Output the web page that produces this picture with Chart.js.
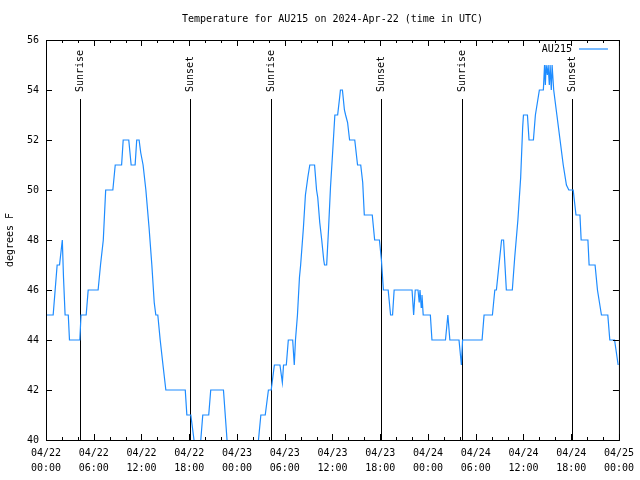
<!DOCTYPE html>
<html>
<head>
<meta charset="utf-8">
<title>Temperature for AU215</title>
<script src="https://cdn.jsdelivr.net/npm/chart.js@4.4.1/dist/chart.umd.min.js"></script>
<style>
  html, body { margin: 0; padding: 0; background: #fff; }
  canvas { display: block; }
</style>
</head>
<body>
<canvas id="chart" width="640" height="480"></canvas>
<script>
// Horas desde 2024-04-22 00:00 UTC y temperatura (°F)
const hours = [
  0, 0.9, 1.15, 1.4, 1.7, 2.05, 2.2, 2.4, 2.8, 2.95, 4.25, 4.4, 5.05, 5.3, 6.55, 6.85, 7.2, 7.35, 7.5,
  8.4, 8.7, 9.5, 9.7, 10.4, 10.7, 11.2, 11.4, 11.7, 11.9, 12.2, 12.55, 12.95, 13.3, 13.6, 13.8, 14.05,
  14.35, 14.7, 15.06, 17.5, 17.7, 18.2, 18.6, 18.85, 19.2, 19.45, 19.7, 20.45, 20.7, 22.3, 22.75, 23.0,
  26.4, 26.7, 27.0, 27.55, 27.95, 28.3, 28.7, 29.4, 29.7, 29.85, 30.2, 30.45, 31.0, 31.2, 31.35, 31.6,
  31.85, 32.0, 32.35, 32.6, 32.9, 33.15, 33.75, 34.0, 34.15, 34.4, 34.65, 34.9, 35.0, 35.27, 35.5, 35.75,
  36.0, 36.3, 36.65, 36.9, 37.0, 37.25, 37.5, 37.65, 37.9, 38.15, 38.8, 39.15, 39.55, 39.8, 40.0, 41.0,
  41.3, 41.9, 42.15, 42.4, 43.0, 43.3, 43.55, 43.75, 46.0, 46.2, 46.4, 46.75, 46.9, 47.0, 47.15, 47.25,
  47.4, 48.3, 48.5, 50.2, 50.5, 50.75, 51.9, 52.2, 52.35, 54.8, 55.05, 56.1, 56.4, 56.6, 57.25, 57.5,
  57.85, 58.6, 58.9, 59.3, 59.65, 59.9, 60.0, 60.5, 60.7, 61.25, 61.5, 62.0, 62.5, 62.65, 62.75, 62.85,
  63.0, 63.1, 63.25, 63.35, 63.5, 63.6, 63.8, 64.2, 64.6, 65.0, 65.4, 65.7, 66.25, 66.6, 67.1, 67.25,
  68.1, 68.25, 69.0, 69.3, 69.8, 70.6, 70.85, 71.45, 71.9
];
const tempsF = [
  45, 45, 46, 47, 47, 48, 46.5, 45, 45, 44, 44, 45, 45, 46, 46, 47, 48, 49, 50,
  50, 51, 51, 52, 52, 51, 51, 52, 52, 51.5, 51, 50, 48.5, 47, 45.5, 45, 45,
  44, 43, 42, 42, 41, 41, 40, 39, 39, 40, 41, 41, 42, 42, 40, 39,
  39, 40, 41, 41, 42, 42, 43, 43, 42.3, 43, 43, 44, 44, 43, 44, 45,
  46.5, 47, 48.5, 49.8, 50.5, 51, 51, 50, 49.7, 48.7, 48, 47.2, 47, 47, 48.4, 50.1,
  51.4, 53, 53, 53.7, 54, 54, 53.2, 53, 52.7, 52, 52, 51, 51, 50.3, 49, 49,
  48, 48, 47.2, 46, 46, 45, 45, 46, 46, 45, 46, 46, 45.5, 46, 45.3, 45.8,
  45, 45, 44, 44, 45, 44, 44, 43, 44, 44, 45, 45, 46, 46, 48, 48,
  46, 46, 47.3, 48.8, 50.5, 52.5, 53, 53, 52, 52, 53, 54, 54, 55, 54.2, 55,
  54.6, 55, 54.2, 55, 54, 55, 54, 53, 52, 51, 50.2, 50, 50, 49, 49, 48,
  48, 47, 47, 46, 45, 45, 44, 44, 43
];

// Salida y puesta del sol
const eventNames = ['Sunrise', 'Sunset', 'Sunrise', 'Sunset', 'Sunrise', 'Sunset'];
const eventHours = [4.3, 18.07, 28.33, 42.1, 52.26, 66.15];

// Ejes
const X_MIN = 0, X_MAX = 72, X_STEP = 6, X_MINOR = 2;
const Y_MIN = 40, Y_MAX = 56, Y_STEP = 2;

const TITLE = 'Temperature for AU215 on 2024-Apr-22 (time in UTC)';
const SERIES_NAME = 'AU215';
const Y_TITLE = 'degrees F';

const FONT = '10px "DejaVu Sans Mono", "Liberation Mono", monospace';
const LINE_COLOR = '#1e8cff';

function hourLabel(h) {
  const day = 22 + Math.floor(h / 24);
  const hh = String(h % 24).padStart(2, '0');
  return ['04/' + day, hh + ':00'];
}

// Marco, marcas, textos y líneas de salida/puesta del sol
const gnuplotStyle = {
  id: 'gnuplotStyle',
  beforeDatasetsDraw(chart) {
    const {ctx, chartArea: a, scales: {x}} = chart;
    ctx.save();
    ctx.strokeStyle = '#000';
    ctx.lineWidth = 1;
    ctx.fillStyle = '#000';
    ctx.font = FONT;
    eventHours.forEach((h, i) => {
      const px = Math.round(x.getPixelForValue(h)) + 0.5;
      ctx.beginPath();
      ctx.moveTo(px, a.top + 59);
      ctx.lineTo(px, a.bottom);
      ctx.stroke();
      ctx.save();
      ctx.translate(px, a.top + 52);
      ctx.rotate(-Math.PI / 2);
      ctx.textAlign = 'left';
      ctx.textBaseline = 'middle';
      ctx.fillText(eventNames[i], 0, 0);
      ctx.restore();
    });
    ctx.restore();
  },
  afterDraw(chart) {
    const {ctx, chartArea: a, scales: {x, y}} = chart;
    ctx.save();
    ctx.strokeStyle = '#000';
    ctx.lineWidth = 1;
    ctx.strokeRect(a.left + 0.5, a.top + 0.5, a.right - a.left, a.bottom - a.top);

    ctx.beginPath();
    for (let h = X_MIN; h <= X_MAX; h += X_MINOR) {
      const px = Math.round(x.getPixelForValue(h)) + 0.5;
      const len = h % X_STEP === 0 ? 6 : 3;
      ctx.moveTo(px, a.bottom); ctx.lineTo(px, a.bottom - len);
      ctx.moveTo(px, a.top); ctx.lineTo(px, a.top + len);
    }
    for (let v = Y_MIN; v <= Y_MAX; v += Y_STEP) {
      const py = Math.round(y.getPixelForValue(v)) + 0.5;
      ctx.moveTo(a.left, py); ctx.lineTo(a.left + 6, py);
      ctx.moveTo(a.right, py); ctx.lineTo(a.right - 6, py);
    }
    ctx.stroke();

    ctx.fillStyle = '#000';
    ctx.font = FONT;
    ctx.textBaseline = 'middle';
    ctx.textAlign = 'center';
    ctx.fillText(TITLE, (a.left + a.right) / 2, 19);

    ctx.save();
    ctx.translate(10, (a.top + a.bottom) / 2);
    ctx.rotate(-Math.PI / 2);
    ctx.fillText(Y_TITLE, 0, 0);
    ctx.restore();

    // Leyenda
    ctx.textAlign = 'right';
    ctx.fillText(SERIES_NAME, a.right - 47, a.top + 9);
    ctx.strokeStyle = LINE_COLOR;
    ctx.lineWidth = 1.2;
    ctx.beginPath();
    ctx.moveTo(a.right - 40, a.top + 9);
    ctx.lineTo(a.right - 11, a.top + 9);
    ctx.stroke();
    ctx.restore();
  }
};

new Chart(document.getElementById('chart'), {
  type: 'line',
  data: {
    datasets: [{
      label: SERIES_NAME,
      data: hours.map((h, i) => ({x: h, y: tempsF[i]})),
      borderColor: LINE_COLOR,
      borderWidth: 1.2,
      pointRadius: 0,
      tension: 0,
      fill: false
    }]
  },
  options: {
    responsive: false,
    animation: false,
    devicePixelRatio: 1,
    layout: { padding: { left: 0, top: 40, right: 19, bottom: 0 } },
    plugins: {
      legend: { display: false },
      title: { display: false },
      tooltip: { enabled: false }
    },
    scales: {
      x: {
        type: 'linear',
        min: X_MIN,
        max: X_MAX,
        afterFit: (scale) => { scale.height = 40; },
        grid: { display: false, drawTicks: false },
        border: { display: false },
        ticks: {
          stepSize: X_STEP,
          autoSkip: false,
          maxRotation: 0,
          padding: 6,
          color: '#000',
          font: { family: '"DejaVu Sans Mono", monospace', size: 10, lineHeight: 1.5 },
          callback: (v) => hourLabel(v)
        }
      },
      y: {
        min: Y_MIN,
        max: Y_MAX,
        afterFit: (scale) => { scale.width = 46; },
        grid: { display: false, drawTicks: false },
        border: { display: false },
        ticks: {
          stepSize: Y_STEP,
          padding: 7,
          color: '#000',
          font: { family: '"DejaVu Sans Mono", monospace', size: 10 }
        }
      }
    }
  },
  plugins: [gnuplotStyle]
});
</script>
</body>
</html>
